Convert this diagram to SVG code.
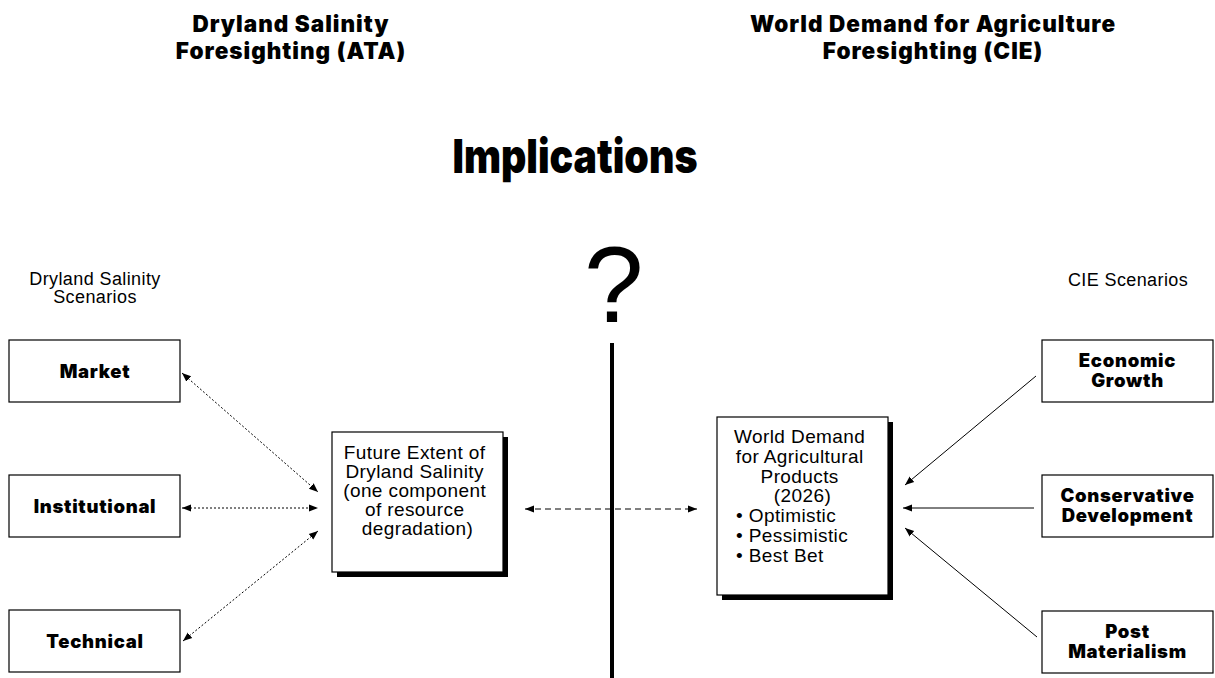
<svg xmlns="http://www.w3.org/2000/svg" width="1215" height="678" viewBox="0 0 1215 678">
  <style>
    .heavy { font-family: "Inter", "Liberation Sans", sans-serif; font-weight: 900; fill: #000; text-anchor: middle; }
    .plain { font-family: "Liberation Sans", "Arial", sans-serif; font-weight: 400; fill: #000; text-anchor: middle; letter-spacing: 0.4px; }
    .plain-left { font-family: "Liberation Sans", "Arial", sans-serif; font-weight: 400; fill: #000; text-anchor: start; letter-spacing: 0.4px; }
    .head { font-size: 22.5px; letter-spacing: 1px; }
    .label { font-size: 18.5px; letter-spacing: 0.7px; }
    .box { fill: #fff; stroke: #000; stroke-width: 1.2; }
    .shadow { fill: #000; }
    .dotted { stroke: #000; stroke-width: 1; stroke-dasharray: 2 2; fill: none; }
    .dashed { stroke: #000; stroke-width: 1; stroke-dasharray: 6 4; fill: none; }
    .solid { stroke: #000; stroke-width: 1; fill: none; }
  </style>
  <defs>
    <marker id="head" viewBox="0 0 10 10" refX="10" refY="5" markerWidth="9" markerHeight="9" markerUnits="userSpaceOnUse" orient="auto-start-reverse">
      <path d="M0,1 L10,5 L0,9 z" fill="#000"/>
    </marker>
  </defs>
  <rect width="1215" height="678" fill="#fff"/>

  <!-- headings -->
  <g id="heading-ata">
    <text class="heavy head" x="291" y="32">Dryland Salinity</text>
    <text class="heavy head" x="291" y="59">Foresighting (ATA)</text>
  </g>
  <g id="heading-cie">
    <text class="heavy head" x="933" y="32">World Demand for Agriculture</text>
    <text class="heavy head" x="933" y="59">Foresighting (CIE)</text>
  </g>
  <g id="title">
    <text class="heavy" x="575" y="173" font-size="47" textLength="245" lengthAdjust="spacingAndGlyphs">Implications</text>
  </g>
  <g id="question">
    <text class="plain" x="614" y="322" font-size="107">?</text>
  </g>
  <g id="divider">
    <line x1="612" y1="343" x2="612" y2="678" stroke="#000" stroke-width="4"/>
  </g>

  <!-- column captions -->
  <g id="caption-left">
    <text class="plain" x="95" y="285" font-size="18">Dryland Salinity</text>
    <text class="plain" x="95" y="303" font-size="18">Scenarios</text>
  </g>
  <g id="caption-right">
    <text class="plain" x="1128" y="286" font-size="18">CIE Scenarios</text>
  </g>

  <!-- dryland salinity scenarios -->
  <g id="market">
    <rect class="box" x="9" y="340" width="171" height="62"/>
    <text class="heavy label" x="95" y="378">Market</text>
  </g>
  <g id="institutional">
    <rect class="box" x="9" y="475" width="171" height="62"/>
    <text class="heavy label" x="95" y="513">Institutional</text>
  </g>
  <g id="technical">
    <rect class="box" x="9" y="610" width="171" height="62"/>
    <text class="heavy label" x="95" y="648">Technical</text>
  </g>

  <!-- central boxes -->
  <g id="future-extent">
    <rect class="shadow" x="337" y="437" width="171" height="140"/>
    <rect class="box" x="332" y="432" width="171" height="140"/>
    <text class="plain" font-size="19">
      <tspan x="417.5" y="459">Future Extent of</tspan>
      <tspan x="417.5" y="478">Dryland Salinity</tspan>
      <tspan x="417.5" y="497">(one component</tspan>
      <tspan x="417.5" y="516">of resource</tspan>
      <tspan x="417.5" y="535">degradation)</tspan>
    </text>
  </g>
  <g id="world-demand">
    <rect class="shadow" x="722" y="422" width="171" height="178"/>
    <rect class="box" x="717" y="417" width="171" height="178"/>
    <text class="plain" font-size="19">
      <tspan x="802.5" y="443">World Demand</tspan>
      <tspan x="802.5" y="463">for Agricultural</tspan>
      <tspan x="802.5" y="483">Products</tspan>
      <tspan x="802.5" y="502">(2026)</tspan>
    </text>
    <text class="plain-left" font-size="19">
      <tspan x="736" y="522">• Optimistic</tspan>
      <tspan x="736" y="542">• Pessimistic</tspan>
      <tspan x="736" y="562">• Best Bet</tspan>
    </text>
  </g>

  <!-- CIE scenarios -->
  <g id="economic-growth">
    <rect class="box" x="1042" y="340" width="171" height="62"/>
    <text class="heavy label" x="1127.5" y="367">Economic</text>
    <text class="heavy label" x="1127.5" y="387">Growth</text>
  </g>
  <g id="conservative-development">
    <rect class="box" x="1042" y="475" width="171" height="62"/>
    <text class="heavy label" x="1127.5" y="502">Conservative</text>
    <text class="heavy label" x="1127.5" y="522">Development</text>
  </g>
  <g id="post-materialism">
    <rect class="box" x="1042" y="611" width="171" height="62"/>
    <text class="heavy label" x="1127.5" y="638">Post</text>
    <text class="heavy label" x="1127.5" y="658">Materialism</text>
  </g>

  <!-- connectors -->
  <g id="connectors">
    <line class="dotted" x1="182" y1="373" x2="318" y2="492" marker-start="url(#head)" marker-end="url(#head)"/>
    <line class="dotted" x1="182" y1="508" x2="318" y2="508" marker-start="url(#head)" marker-end="url(#head)"/>
    <line class="dotted" x1="183" y1="641" x2="318" y2="531" marker-start="url(#head)" marker-end="url(#head)"/>
    <line class="dashed" x1="525" y1="509" x2="697" y2="509" marker-start="url(#head)" marker-end="url(#head)"/>
    <line class="solid" x1="1036" y1="376" x2="905" y2="485" marker-end="url(#head)"/>
    <line class="solid" x1="1034" y1="508" x2="903" y2="508" marker-end="url(#head)"/>
    <line class="solid" x1="1037" y1="637" x2="905" y2="528" marker-end="url(#head)"/>
  </g>
</svg>
